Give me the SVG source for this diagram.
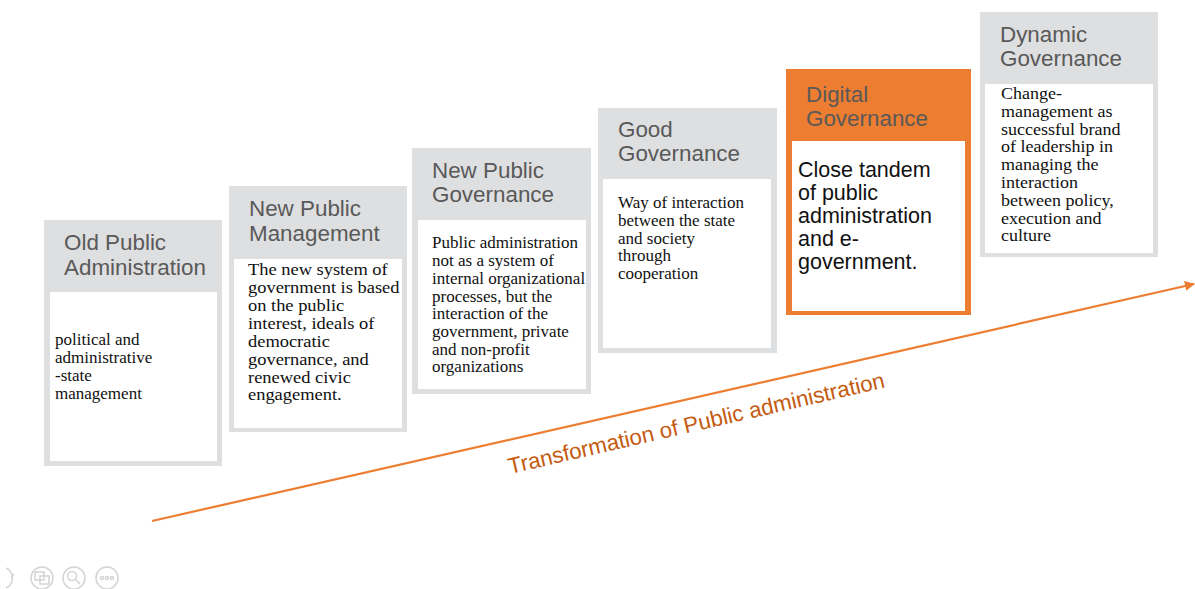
<svg xmlns="http://www.w3.org/2000/svg" width="1195" height="589" viewBox="0 0 1195 589">
<defs>
<style>
.frame{fill:#DEDFE0}
.frameO{fill:#ED7D31}
.inner{fill:#FFFFFF}
.hd{font-family:"Liberation Sans",Arial,sans-serif;font-size:22.4px;fill:#595959}
.bd{font-family:"Liberation Serif","Times New Roman",serif;font-size:17px;fill:#111111}
.bdS{font-family:"Liberation Sans",Arial,sans-serif;font-size:21.5px;fill:#111111}
.lbl{font-family:"Liberation Sans",Arial,sans-serif;font-size:22.3px;fill:#C55A11}
.ico{fill:none;stroke:#D4D4D4;stroke-width:1.5}
</style>
<marker id="ah" viewBox="0 0 10 10" refX="9" refY="5" markerWidth="11" markerHeight="10" markerUnits="userSpaceOnUse" orient="auto">
<path d="M0,0 L10,5 L0,10 z" fill="#ED7D31"/>
</marker>
</defs>
<rect width="1195" height="589" fill="#FFFFFF"/>

<g id="connectors">
<line x1="152" y1="521" x2="1194" y2="284" stroke="#ED7D31" stroke-width="2.2" marker-end="url(#ah)"/>
<text class="lbl" transform="translate(510,474) rotate(-13)">Transformation of Public administration</text>
</g>

<g id="node-old-public-administration">
<rect class="frame" x="44" y="220" width="178" height="246"/>
<rect class="inner" x="50" y="292" width="167" height="169"/>
<text class="hd" x="64" y="250">Old Public</text>
<text class="hd" x="64" y="275">Administration</text>
<text class="bd" x="55" y="345">political and</text>
<text class="bd" x="55" y="363">administrative</text>
<text class="bd" x="55" y="381">-state</text>
<text class="bd" x="55" y="399">management</text>
</g>

<g id="node-new-public-management">
<rect class="frame" x="229" y="186" width="178" height="246"/>
<rect class="inner" x="234" y="259" width="168" height="169"/>
<text class="hd" x="249" y="216">New Public</text>
<text class="hd" x="249" y="241">Management</text>
<g class="bd" transform="translate(248,0) scale(1.085,1)">
<text x="0" y="275">The new system of</text>
<text x="0" y="293">government is based</text>
<text x="0" y="311">on the public</text>
<text x="0" y="329">interest, ideals of</text>
<text x="0" y="347">democratic</text>
<text x="0" y="365">governance, and</text>
<text x="0" y="383">renewed civic</text>
<text x="0" y="400">engagement.</text>
</g>
</g>

<g id="node-new-public-governance">
<rect class="frame" x="412" y="148" width="179" height="246"/>
<rect class="inner" x="418" y="220" width="168" height="169"/>
<text class="hd" x="432" y="178">New Public</text>
<text class="hd" x="432" y="202">Governance</text>
<text class="bd" x="432" y="248">Public administration</text>
<text class="bd" x="432" y="266">not as a system of</text>
<text class="bd" x="432" y="284">internal organizational</text>
<text class="bd" x="432" y="302">processes, but the</text>
<text class="bd" x="432" y="319">interaction of the</text>
<text class="bd" x="432" y="337">government, private</text>
<text class="bd" x="432" y="355">and non-profit</text>
<text class="bd" x="432" y="372">organizations</text>
</g>

<g id="node-good-governance">
<rect class="frame" x="598" y="108" width="179" height="245"/>
<rect class="inner" x="603" y="179" width="168" height="169"/>
<text class="hd" x="618" y="137">Good</text>
<text class="hd" x="618" y="161">Governance</text>
<text class="bd" x="618" y="208">Way of interaction</text>
<text class="bd" x="618" y="226">between the state</text>
<text class="bd" x="618" y="244">and society</text>
<text class="bd" x="618" y="261">through</text>
<text class="bd" x="618" y="279">cooperation</text>
</g>

<g id="node-digital-governance">
<rect class="frameO" x="786" y="69" width="185" height="246"/>
<rect class="inner" x="792" y="141" width="173" height="170"/>
<text class="hd" x="806" y="102">Digital</text>
<text class="hd" x="806" y="126">Governance</text>
<text class="bdS" x="798" y="177">Close tandem</text>
<text class="bdS" x="798" y="200">of public</text>
<text class="bdS" x="798" y="223">administration</text>
<text class="bdS" x="798" y="246">and e-</text>
<text class="bdS" x="798" y="269">government.</text>
</g>

<g id="node-dynamic-governance">
<rect class="frame" x="980" y="12" width="178" height="245"/>
<rect class="inner" x="985" y="84" width="168" height="169"/>
<text class="hd" x="1000" y="42">Dynamic</text>
<text class="hd" x="1000" y="66">Governance</text>
<g class="bd" transform="translate(1001,0) scale(1.06,1)">
<text x="0" y="99">Change-</text>
<text x="0" y="116.8">management as</text>
<text x="0" y="134.6">successful brand</text>
<text x="0" y="152.4">of leadership in</text>
<text x="0" y="170.2">managing the</text>
<text x="0" y="188">interaction</text>
<text x="0" y="205.8">between policy,</text>
<text x="0" y="223.6">execution and</text>
<text x="0" y="241.4">culture</text>
</g>
</g>

<g id="toolbar-icons">
<path class="ico" d="M6,568 A11,11 0 0 1 6,588"/>
<path class="ico" d="M14,574 L11,578"/>
<circle class="ico" cx="42" cy="578" r="11"/>
<rect class="ico" x="35" y="572" width="9" height="8"/>
<rect class="ico" x="40" y="576" width="9" height="8"/>
<circle class="ico" cx="74" cy="578" r="11"/>
<circle class="ico" cx="72" cy="576" r="4.5"/>
<path class="ico" d="M75.5,579.5 L80,584"/>
<circle class="ico" cx="107" cy="578" r="11"/>
<circle class="ico" cx="102" cy="578" r="1.6"/>
<circle class="ico" cx="107" cy="578" r="1.6"/>
<circle class="ico" cx="112" cy="578" r="1.6"/>
</g>
</svg>
